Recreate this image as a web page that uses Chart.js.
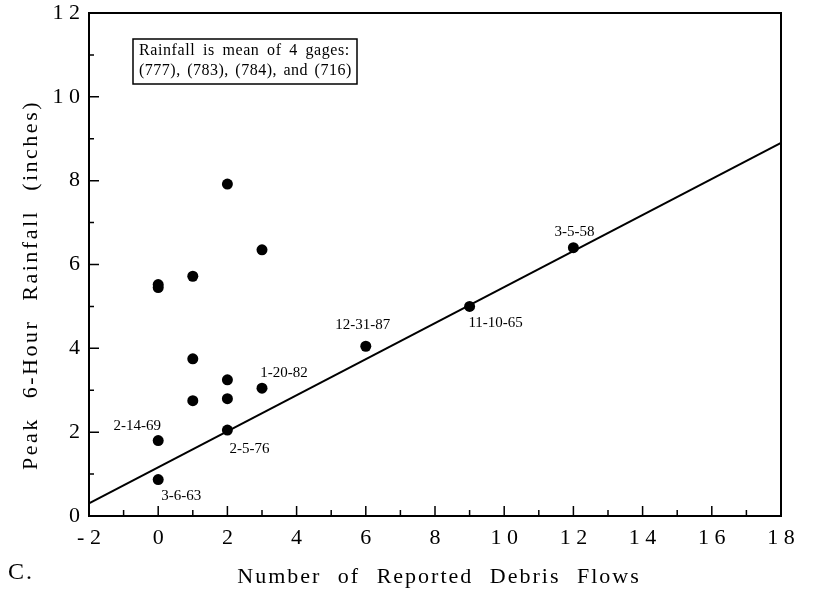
<!DOCTYPE html>
<html>
<head>
<meta charset="utf-8">
<script src="https://cdn.jsdelivr.net/npm/chart.js@4.4.1/dist/chart.umd.min.js"></script>
<style>
  body { margin: 0; background: #fff; }
  canvas { display: block; }
</style>
</head>
<body>
<canvas id="chart" width="826" height="594"></canvas>
<script>
// storm events: number of debris flows vs. peak 6-hour rainfall
const flowCounts = [0, 0, 0, 0, 1, 1, 1, 2, 2, 2, 2, 3, 3, 6, 9, 12];
const rainfall = [0.87, 1.80, 5.45, 5.52, 2.75, 3.75, 5.72, 2.05, 2.80, 3.25, 7.92, 3.05, 6.35, 4.05, 5.00, 6.40];
const stormDates = ['3-6-63', '2-14-69', '', '', '', '', '', '2-5-76', '', '', '', '1-20-82', '', '12-31-87', '11-10-65', '3-5-58'];

// fitted line end points
const fitX = [-2, 18];
const fitY = [0.30, 8.90];

const xTicks = [-2, 0, 2, 4, 6, 8, 10, 12, 14, 16, 18];
const yTicks = [0, 2, 4, 6, 8, 10, 12];

const serif = 'Liberation Serif';

// where each date label sits relative to its point (px)
const dateOffsets = {
  '3-6-63': [23, 17], '2-14-69': [-21, -14], '2-5-76': [22, 19], '1-20-82': [22, -15],
  '12-31-87': [-3, -21], '11-10-65': [26, 17], '3-5-58': [1, -16]
};

const spaced = v => String(v).split('').join(' ');

const decorations = {
  id: 'decorations',
  afterDraw(chart) {
    const { ctx, chartArea: a, scales: { x, y } } = chart;
    ctx.save();
    ctx.strokeStyle = '#000';
    ctx.fillStyle = '#000';

    // box around the plot
    ctx.lineWidth = 2;
    ctx.strokeRect(a.left, a.top, a.right - a.left, a.bottom - a.top);

    // tick marks point inward
    ctx.lineWidth = 1.5;
    ctx.beginPath();
    for (let v = -2; v <= 18; v++) {
      const px = x.getPixelForValue(v);
      const len = v % 2 === 0 ? 10 : 6;
      ctx.moveTo(px, a.bottom);
      ctx.lineTo(px, a.bottom - len);
    }
    for (let v = 0; v <= 12; v++) {
      const py = y.getPixelForValue(v);
      const len = v % 2 === 0 ? 10 : 5;
      ctx.moveTo(a.left, py);
      ctx.lineTo(a.left + len, py);
    }
    ctx.stroke();

    // date labels
    ctx.font = '15px "' + serif + '"';
    ctx.textAlign = 'center';
    ctx.textBaseline = 'middle';
    stormDates.forEach((d, i) => {
      if (!d) return;
      const off = dateOffsets[d];
      ctx.fillText(d, x.getPixelForValue(flowCounts[i]) + off[0], y.getPixelForValue(rainfall[i]) + off[1]);
    });

    // note box
    ctx.lineWidth = 1.5;
    ctx.strokeRect(133, 39, 224, 45);
    ctx.font = '16px "' + serif + '"';
    ctx.textAlign = 'left';
    ctx.letterSpacing = '0.6px';
    ctx.wordSpacing = '3px';
    ctx.fillText('Rainfall is mean of 4 gages:', 139, 51);
    ctx.letterSpacing = '0.5px';
    ctx.wordSpacing = '2px';
    ctx.fillText('(777), (783), (784), and (716)', 139, 71);

    // axis titles
    ctx.font = '22px "' + serif + '"';
    ctx.textAlign = 'center';
    ctx.letterSpacing = '2px';
    ctx.wordSpacing = '9px';
    ctx.fillText('Number of Reported Debris Flows', 439, 577);
    ctx.save();
    ctx.letterSpacing = '2.5px';
    ctx.wordSpacing = '11px';
    ctx.translate(31, 285);
    ctx.rotate(-Math.PI / 2);
    ctx.fillText('Peak 6-Hour Rainfall (inches)', 0, 0);
    ctx.restore();

    ctx.font = '24px "' + serif + '"';
    ctx.letterSpacing = '2px';
    ctx.wordSpacing = '0px';
    ctx.textAlign = 'left';
    ctx.fillText('C.', 8, 573);
    ctx.restore();
  }
};

new Chart(document.getElementById('chart'), {
  type: 'scatter',
  data: {
    datasets: [
      {
        data: flowCounts.map((n, i) => ({ x: n, y: rainfall[i] })),
        pointRadius: 5.5,
        pointBackgroundColor: '#000',
        pointBorderWidth: 0
      },
      {
        data: fitX.map((n, i) => ({ x: n, y: fitY[i] })),
        showLine: true,
        borderColor: '#000',
        borderWidth: 2,
        pointRadius: 0
      }
    ]
  },
  options: {
    responsive: false,
    animation: false,
    layout: { padding: { left: 0, top: 13, right: 45, bottom: 0 } },
    plugins: { legend: { display: false }, tooltip: { enabled: false } },
    scales: {
      x: {
        type: 'linear',
        min: -2,
        max: 18,
        afterFit: s => { s.height = 78; s.paddingLeft = 0; s.paddingRight = 0; },
        afterBuildTicks: s => { s.ticks = xTicks.map(v => ({ value: v })); },
        grid: { display: false, drawTicks: false },
        border: { display: true, color: '#000', width: 2 },
        ticks: {
          padding: 9,
          color: '#000',
          maxRotation: 0,
          font: { family: serif, size: 22 },
          callback: v => spaced(v)
        }
      },
      y: {
        min: 0,
        max: 12,
        // let the top label hang above the frame instead of pushing it down
        afterFit: s => { s.width = 89; s.paddingTop = 0; s.paddingBottom = 0; },
        afterBuildTicks: s => { s.ticks = yTicks.map(v => ({ value: v })); },
        grid: { display: false, drawTicks: false },
        border: { display: true, color: '#000', width: 2 },
        ticks: {
          padding: 9,
          color: '#000',
          font: { family: serif, size: 22 },
          callback: v => spaced(v)
        }
      }
    }
  },
  plugins: [decorations]
});
</script>
</body>
</html>
